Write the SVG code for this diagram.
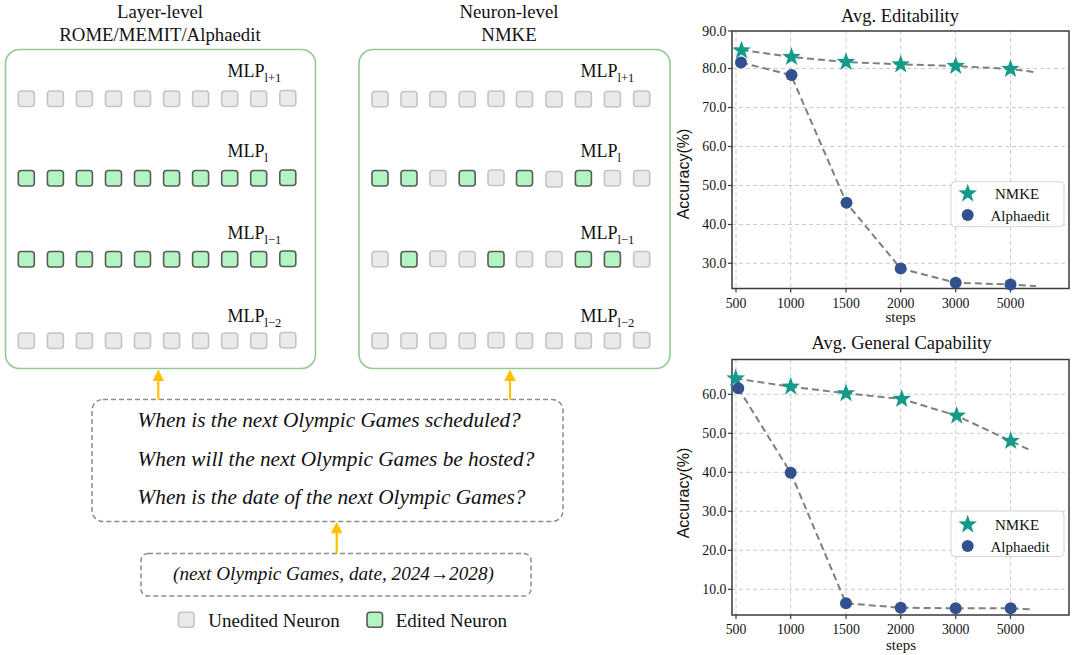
<svg xmlns="http://www.w3.org/2000/svg" width="1080" height="655" viewBox="0 0 1080 655">
<style>
.serif{font-family:"Liberation Serif","Times New Roman",serif;fill:#111}
.it{font-style:italic}
.sans{font-family:"Liberation Sans",Arial,sans-serif;fill:#111}
.panel{fill:#fff;stroke:#93c993;stroke-width:1.6}
.u{fill:#e9eaec;stroke:#c4c4c4;stroke-width:1.6}
.e{fill:#b3f5c2;stroke:#5a5a5a;stroke-width:1.6}
.dash{fill:none;stroke:#8a8a8a;stroke-width:1.5;stroke-dasharray:5 3}
.arrow{stroke:#FFC000;stroke-width:2.2;fill:none}
.ahead{fill:#FFC000}
.grid{stroke:#cccccc;stroke-width:1;stroke-dasharray:4 3;fill:none}
.frame{fill:none;stroke:#3a3a3a;stroke-width:1.5}
.tick{stroke:#3a3a3a;stroke-width:1.2}
.fit{fill:none;stroke:#7f7f7f;stroke-width:2;stroke-dasharray:7 4}
.star{fill:#149a89}
.dot{fill:#33508f}
.ytl{font-size:13.8px;text-anchor:end}
.xtl{font-size:13.8px;text-anchor:middle}
.leg{fill:#fff;fill-opacity:0.85;stroke:#d5d5d5;stroke-width:1}
</style>
<defs>
<path id="st" d="M0,-9.8 L2.3,-3.17 L9.32,-3.03 L3.73,1.21 L5.76,7.93 L0,3.92 L-5.76,7.93 L-3.73,1.21 L-9.32,-3.03 L-2.3,-3.17 Z"/>
</defs>

<!-- Titles -->
<g id="title-layer">
<text class="serif" x="160" y="18" font-size="18.8" text-anchor="middle">Layer-level</text>
<text class="serif" x="160" y="41" font-size="18.8" text-anchor="middle">ROME/MEMIT/Alphaedit</text>
</g>
<g id="title-neuron">
<text class="serif" x="509" y="18" font-size="18.8" text-anchor="middle">Neuron-level</text>
<text class="serif" x="509" y="41" font-size="18.8" text-anchor="middle">NMKE</text>
</g>

<!-- Layer-level panel -->
<g id="panel-layer">
<rect class="panel" x="5.5" y="49.5" width="310" height="319" rx="14"/>
<text class="serif" x="227.5" y="77" font-size="18">MLP<tspan font-size="12.5" dy="5">l+1</tspan></text>
<text class="serif" x="227.5" y="156.5" font-size="18">MLP<tspan font-size="12.5" dy="5">l</tspan></text>
<text class="serif" x="227.5" y="238.5" font-size="18">MLP<tspan font-size="12.5" dy="5">l−1</tspan></text>
<text class="serif" x="227.5" y="322" font-size="18">MLP<tspan font-size="12.5" dy="5">l−2</tspan></text>
<g>
<rect class="u" x="18.3" y="91" width="16" height="15.5" rx="3"/><rect class="u" x="47.4" y="91" width="16" height="15.5" rx="3"/><rect class="u" x="76.4" y="91" width="16" height="15.5" rx="3"/><rect class="u" x="105.5" y="91" width="16" height="15.5" rx="3"/><rect class="u" x="134.5" y="91" width="16" height="15.5" rx="3"/><rect class="u" x="163.6" y="91" width="16" height="15.5" rx="3"/><rect class="u" x="192.6" y="91" width="16" height="15.5" rx="3"/><rect class="u" x="221.7" y="91" width="16" height="15.5" rx="3"/><rect class="u" x="250.7" y="91" width="16" height="15.5" rx="3"/><rect class="u" x="279.8" y="90.5" width="16" height="15.5" rx="3"/>
</g>
<g>
<rect class="e" x="18.3" y="170.5" width="16" height="15.5" rx="3"/><rect class="e" x="47.4" y="170.5" width="16" height="15.5" rx="3"/><rect class="e" x="76.4" y="170.5" width="16" height="15.5" rx="3"/><rect class="e" x="105.5" y="170.5" width="16" height="15.5" rx="3"/><rect class="e" x="134.5" y="170.5" width="16" height="15.5" rx="3"/><rect class="e" x="163.6" y="170.5" width="16" height="15.5" rx="3"/><rect class="e" x="192.6" y="170.5" width="16" height="15.5" rx="3"/><rect class="e" x="221.7" y="170.5" width="16" height="15.5" rx="3"/><rect class="e" x="250.7" y="170.5" width="16" height="15.5" rx="3"/><rect class="e" x="279.8" y="170" width="16" height="15.5" rx="3"/>
</g>
<g>
<rect class="e" x="18.3" y="251.5" width="16" height="15.5" rx="3"/><rect class="e" x="47.4" y="251.5" width="16" height="15.5" rx="3"/><rect class="e" x="76.4" y="251.5" width="16" height="15.5" rx="3"/><rect class="e" x="105.5" y="251.5" width="16" height="15.5" rx="3"/><rect class="e" x="134.5" y="251.5" width="16" height="15.5" rx="3"/><rect class="e" x="163.6" y="251.5" width="16" height="15.5" rx="3"/><rect class="e" x="192.6" y="251.5" width="16" height="15.5" rx="3"/><rect class="e" x="221.7" y="251.5" width="16" height="15.5" rx="3"/><rect class="e" x="250.7" y="251.5" width="16" height="15.5" rx="3"/><rect class="e" x="279.8" y="251" width="16" height="15.5" rx="3"/>
</g>
<g>
<rect class="u" x="18.3" y="333" width="16" height="15.5" rx="3"/><rect class="u" x="47.4" y="333" width="16" height="15.5" rx="3"/><rect class="u" x="76.4" y="333" width="16" height="15.5" rx="3"/><rect class="u" x="105.5" y="333" width="16" height="15.5" rx="3"/><rect class="u" x="134.5" y="333" width="16" height="15.5" rx="3"/><rect class="u" x="163.6" y="333" width="16" height="15.5" rx="3"/><rect class="u" x="192.6" y="333" width="16" height="15.5" rx="3"/><rect class="u" x="221.7" y="333" width="16" height="15.5" rx="3"/><rect class="u" x="250.7" y="333" width="16" height="15.5" rx="3"/><rect class="u" x="279.8" y="332.5" width="16" height="15.5" rx="3"/>
</g>
</g>

<!-- Neuron-level panel -->
<g id="panel-neuron">
<rect class="panel" x="359" y="49.5" width="311" height="319" rx="14"/>
<text class="serif" x="580.5" y="77" font-size="18">MLP<tspan font-size="12.5" dy="5">l+1</tspan></text>
<text class="serif" x="580.5" y="156.5" font-size="18">MLP<tspan font-size="12.5" dy="5">l</tspan></text>
<text class="serif" x="580.5" y="238.5" font-size="18">MLP<tspan font-size="12.5" dy="5">l−1</tspan></text>
<text class="serif" x="580.5" y="322" font-size="18">MLP<tspan font-size="12.5" dy="5">l−2</tspan></text>
<g>
<rect class="u" x="372" y="91.5" width="16" height="15.5" rx="3"/><rect class="u" x="401" y="91.5" width="16" height="15.5" rx="3"/><rect class="u" x="429.8" y="91.5" width="16" height="15.5" rx="3"/><rect class="u" x="459.2" y="91.5" width="16" height="15.5" rx="3"/><rect class="u" x="488" y="91" width="16" height="15.5" rx="3"/><rect class="u" x="516.5" y="91.5" width="16" height="15.5" rx="3"/><rect class="u" x="546" y="91.5" width="16" height="15.5" rx="3"/><rect class="u" x="575.4" y="91.5" width="16" height="15.5" rx="3"/><rect class="u" x="604.4" y="91.5" width="16" height="15.5" rx="3"/><rect class="u" x="633.7" y="91" width="16" height="15.5" rx="3"/>
</g>
<g>
<rect class="e" x="372" y="170.5" width="16" height="15.5" rx="3"/><rect class="e" x="401" y="170.5" width="16" height="15.5" rx="3"/><rect class="u" x="429.8" y="170.5" width="16" height="15.5" rx="3"/><rect class="e" x="459.2" y="170.5" width="16" height="15.5" rx="3"/><rect class="u" x="488" y="170" width="16" height="15.5" rx="3"/><rect class="e" x="516.5" y="170.5" width="16" height="15.5" rx="3"/><rect class="u" x="546" y="171.5" width="16" height="15.5" rx="3"/><rect class="e" x="575.4" y="170.5" width="16" height="15.5" rx="3"/><rect class="u" x="604.4" y="170.5" width="16" height="15.5" rx="3"/><rect class="u" x="633.7" y="170.5" width="16" height="15.5" rx="3"/>
</g>
<g>
<rect class="u" x="372" y="251.5" width="16" height="15.5" rx="3"/><rect class="e" x="401" y="251.5" width="16" height="15.5" rx="3"/><rect class="u" x="429.8" y="251" width="16" height="15.5" rx="3"/><rect class="u" x="459.2" y="251.5" width="16" height="15.5" rx="3"/><rect class="e" x="488" y="251.5" width="16" height="15.5" rx="3"/><rect class="u" x="516.5" y="251.5" width="16" height="15.5" rx="3"/><rect class="u" x="546" y="251.5" width="16" height="15.5" rx="3"/><rect class="e" x="575.4" y="251.5" width="16" height="15.5" rx="3"/><rect class="e" x="604.4" y="251.5" width="16" height="15.5" rx="3"/><rect class="u" x="633.7" y="251.5" width="16" height="15.5" rx="3"/>
</g>
<g>
<rect class="u" x="372" y="333" width="16" height="15.5" rx="3"/><rect class="u" x="401" y="333" width="16" height="15.5" rx="3"/><rect class="u" x="429.8" y="333" width="16" height="15.5" rx="3"/><rect class="u" x="459.2" y="333" width="16" height="15.5" rx="3"/><rect class="u" x="488" y="332.5" width="16" height="15.5" rx="3"/><rect class="u" x="516.5" y="333" width="16" height="15.5" rx="3"/><rect class="u" x="546" y="333" width="16" height="15.5" rx="3"/><rect class="u" x="575.4" y="333" width="16" height="15.5" rx="3"/><rect class="u" x="604.4" y="333" width="16" height="15.5" rx="3"/><rect class="u" x="633.7" y="332.5" width="16" height="15.5" rx="3"/>
</g>
</g>

<!-- Questions box -->
<g id="questions">
<rect class="dash" x="92" y="399.5" width="471" height="122" rx="11"/>
<text class="serif it" x="137.5" y="427" font-size="21.3">When is the next Olympic Games scheduled?</text>
<text class="serif it" x="137.5" y="465.5" font-size="21.3">When will the next Olympic Games be hosted?</text>
<text class="serif it" x="137.5" y="504" font-size="21.3">When is the date of the next Olympic Games?</text>
</g>

<!-- Triple box -->
<g id="triple">
<rect class="dash" x="141" y="553.5" width="390" height="42.5" rx="7"/>
<text class="serif it" x="333.5" y="580" font-size="19.2" text-anchor="middle">(next Olympic Games, date, 2024→2028)</text>
</g>

<!-- Connectors -->
<g id="connectors">
<line class="arrow" x1="158.3" y1="399.5" x2="158.3" y2="379"/>
<polygon class="ahead" points="158.3,369.5 152.5,381 164.1,381"/>
<line class="arrow" x1="510" y1="399.5" x2="510" y2="379"/>
<polygon class="ahead" points="510,369.5 504.2,381 515.8,381"/>
<line class="arrow" x1="336.7" y1="553.5" x2="336.7" y2="532"/>
<polygon class="ahead" points="336.7,521.8 330.9,533.3 342.5,533.3"/>
</g>

<!-- Legend -->
<g id="legend">
<rect class="u" x="178.5" y="612.3" width="15.5" height="15" rx="3"/>
<text class="serif" x="208.3" y="627" font-size="19">Unedited Neuron</text>
<rect class="e" x="367" y="612.3" width="15.5" height="15" rx="3"/>
<text class="serif" x="395.7" y="627" font-size="19">Edited Neuron</text>
</g>

<!-- Chart 1 -->
<g id="chart-editability">
<text class="serif" x="900" y="22" font-size="18.5" text-anchor="middle">Avg. Editability</text>
<g>
<line class="grid" x1="736" y1="31" x2="736" y2="288.5"/><line class="grid" x1="790.7" y1="31" x2="790.7" y2="288.5"/><line class="grid" x1="846" y1="31" x2="846" y2="288.5"/><line class="grid" x1="900.7" y1="31" x2="900.7" y2="288.5"/><line class="grid" x1="955.7" y1="31" x2="955.7" y2="288.5"/><line class="grid" x1="1010.5" y1="31" x2="1010.5" y2="288.5"/>
<line class="grid" x1="732" y1="68.5" x2="1069" y2="68.5"/><line class="grid" x1="732" y1="107.5" x2="1069" y2="107.5"/><line class="grid" x1="732" y1="146.5" x2="1069" y2="146.5"/><line class="grid" x1="732" y1="185.5" x2="1069" y2="185.5"/><line class="grid" x1="732" y1="224.5" x2="1069" y2="224.5"/><line class="grid" x1="732" y1="263.3" x2="1069" y2="263.3"/>
</g>
<rect class="frame" x="732" y="31" width="337" height="257.5"/>
<g>
<line class="tick" x1="728" y1="31" x2="732" y2="31"/><line class="tick" x1="728" y1="68.5" x2="732" y2="68.5"/><line class="tick" x1="728" y1="107.5" x2="732" y2="107.5"/><line class="tick" x1="728" y1="146.5" x2="732" y2="146.5"/><line class="tick" x1="728" y1="185.5" x2="732" y2="185.5"/><line class="tick" x1="728" y1="224.5" x2="732" y2="224.5"/><line class="tick" x1="728" y1="263.3" x2="732" y2="263.3"/>
<line class="tick" x1="736" y1="288.5" x2="736" y2="292.5"/><line class="tick" x1="790.7" y1="288.5" x2="790.7" y2="292.5"/><line class="tick" x1="846" y1="288.5" x2="846" y2="292.5"/><line class="tick" x1="900.7" y1="288.5" x2="900.7" y2="292.5"/><line class="tick" x1="955.7" y1="288.5" x2="955.7" y2="292.5"/><line class="tick" x1="1010.5" y1="288.5" x2="1010.5" y2="292.5"/>
</g>
<g class="serif">
<text class="ytl" x="726.5" y="35.7">90.0</text><text class="ytl" x="726.5" y="73.2">80.0</text><text class="ytl" x="726.5" y="112.2">70.0</text><text class="ytl" x="726.5" y="151.2">60.0</text><text class="ytl" x="726.5" y="190.2">50.0</text><text class="ytl" x="726.5" y="229.2">40.0</text><text class="ytl" x="726.5" y="268">30.0</text>
<text class="xtl" x="736" y="308">500</text><text class="xtl" x="790.7" y="308">1000</text><text class="xtl" x="846" y="308">1500</text><text class="xtl" x="900.7" y="308">2000</text><text class="xtl" x="955.7" y="308">3000</text><text class="xtl" x="1010.5" y="308">5000</text>
<text x="900.5" y="322" font-size="15" text-anchor="middle">steps</text>
</g>
<text class="sans" transform="translate(689,174) rotate(-90)" font-size="16" text-anchor="middle">Accuracy(%)</text>
<polyline class="fit" points="741.5,50 791.5,57 846,62 900.7,64.3 955.7,66 1010.5,69 1037,72.5"/>
<polyline class="fit" points="741,62.5 791,75 846.5,203 900.7,268.5 955.7,282.7 1010.5,284.5 1036,286"/>
<g>
<use href="#st" class="star" x="741.5" y="50.5"/><use href="#st" class="star" x="791.5" y="57"/><use href="#st" class="star" x="846" y="62"/><use href="#st" class="star" x="900.7" y="64.5"/><use href="#st" class="star" x="955.7" y="66"/><use href="#st" class="star" x="1010.5" y="69"/>
</g>
<g>
<circle class="dot" cx="741" cy="62.5" r="6"/><circle class="dot" cx="791.5" cy="75" r="6"/><circle class="dot" cx="846.5" cy="202.7" r="6"/><circle class="dot" cx="900.7" cy="268.5" r="6"/><circle class="dot" cx="955.7" cy="282.7" r="6"/><circle class="dot" cx="1010.5" cy="284.5" r="6"/>
</g>
<rect class="leg" x="951" y="181.7" width="113" height="45" rx="4"/>
<use href="#st" class="star" x="967.7" y="193.5"/>
<circle class="dot" cx="967.7" cy="215" r="6"/>
<text class="serif" x="995" y="199" font-size="15">NMKE</text>
<text class="serif" x="990.5" y="220.5" font-size="15">Alphaedit</text>
</g>

<!-- Chart 2 -->
<g id="chart-general">
<text class="serif" x="901.5" y="349" font-size="18.5" text-anchor="middle">Avg. General Capability</text>
<g>
<line class="grid" x1="736" y1="359.5" x2="736" y2="615"/><line class="grid" x1="790.7" y1="359.5" x2="790.7" y2="615"/><line class="grid" x1="846" y1="359.5" x2="846" y2="615"/><line class="grid" x1="900.7" y1="359.5" x2="900.7" y2="615"/><line class="grid" x1="955.7" y1="359.5" x2="955.7" y2="615"/><line class="grid" x1="1010.5" y1="359.5" x2="1010.5" y2="615"/>
<line class="grid" x1="732" y1="394.3" x2="1069" y2="394.3"/><line class="grid" x1="732" y1="433.3" x2="1069" y2="433.3"/><line class="grid" x1="732" y1="472.3" x2="1069" y2="472.3"/><line class="grid" x1="732" y1="511.3" x2="1069" y2="511.3"/><line class="grid" x1="732" y1="550.3" x2="1069" y2="550.3"/><line class="grid" x1="732" y1="589.3" x2="1069" y2="589.3"/>
</g>
<rect class="frame" x="732" y="359.5" width="337" height="255.5"/>
<g>
<line class="tick" x1="728" y1="394.3" x2="732" y2="394.3"/><line class="tick" x1="728" y1="433.3" x2="732" y2="433.3"/><line class="tick" x1="728" y1="472.3" x2="732" y2="472.3"/><line class="tick" x1="728" y1="511.3" x2="732" y2="511.3"/><line class="tick" x1="728" y1="550.3" x2="732" y2="550.3"/><line class="tick" x1="728" y1="589.3" x2="732" y2="589.3"/>
<line class="tick" x1="736" y1="615" x2="736" y2="619"/><line class="tick" x1="790.7" y1="615" x2="790.7" y2="619"/><line class="tick" x1="846" y1="615" x2="846" y2="619"/><line class="tick" x1="900.7" y1="615" x2="900.7" y2="619"/><line class="tick" x1="955.7" y1="615" x2="955.7" y2="619"/><line class="tick" x1="1010.5" y1="615" x2="1010.5" y2="619"/>
</g>
<g class="serif">
<text class="ytl" x="726.5" y="399">60.0</text><text class="ytl" x="726.5" y="438">50.0</text><text class="ytl" x="726.5" y="477">40.0</text><text class="ytl" x="726.5" y="516">30.0</text><text class="ytl" x="726.5" y="555">20.0</text><text class="ytl" x="726.5" y="594">10.0</text>
<text class="xtl" x="736" y="633.5">500</text><text class="xtl" x="790.7" y="633.5">1000</text><text class="xtl" x="846" y="633.5">1500</text><text class="xtl" x="900.7" y="633.5">2000</text><text class="xtl" x="955.7" y="633.5">3000</text><text class="xtl" x="1010.5" y="633.5">5000</text>
<text x="901" y="650" font-size="15" text-anchor="middle">steps</text>
</g>
<text class="sans" transform="translate(689,493) rotate(-90)" font-size="16" text-anchor="middle">Accuracy(%)</text>
<polyline class="fit" points="735.7,378.5 790.7,386.7 846,393.3 901.7,399 956.7,415.7 1010.7,441 1032,451"/>
<polyline class="fit" points="738.3,388.3 790.7,472.7 846,603.3 900.7,607.7 955.7,608.3 1010.7,608.3 1032,609.5"/>
<g>
<use href="#st" class="star" x="735.7" y="378.5"/><use href="#st" class="star" x="790.7" y="386.7"/><use href="#st" class="star" x="846" y="393.3"/><use href="#st" class="star" x="901.7" y="399"/><use href="#st" class="star" x="956.7" y="415.7"/><use href="#st" class="star" x="1010.7" y="441"/>
</g>
<g>
<circle class="dot" cx="738.3" cy="388.3" r="6"/><circle class="dot" cx="790.7" cy="472.7" r="6"/><circle class="dot" cx="846" cy="603.3" r="6"/><circle class="dot" cx="900.7" cy="607.7" r="6"/><circle class="dot" cx="955.7" cy="608.3" r="6"/><circle class="dot" cx="1010.7" cy="608.3" r="6"/>
</g>
<rect class="leg" x="951" y="511" width="113" height="45.5" rx="4"/>
<use href="#st" class="star" x="967.7" y="524.5"/>
<circle class="dot" cx="967.7" cy="546" r="6"/>
<text class="serif" x="995" y="530" font-size="15">NMKE</text>
<text class="serif" x="990.5" y="551.5" font-size="15">Alphaedit</text>
</g>
</svg>
